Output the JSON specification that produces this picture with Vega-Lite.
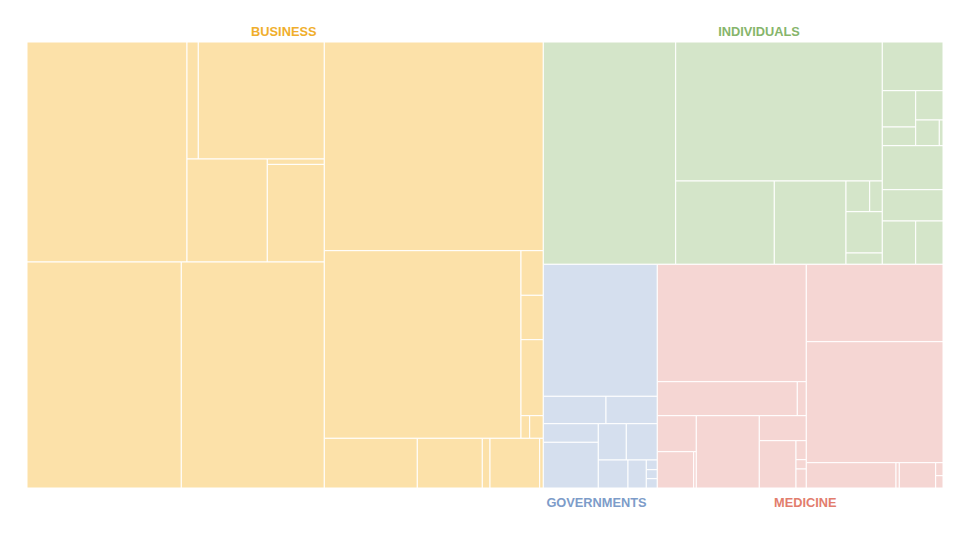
{
  "$schema": "https://vega.github.io/schema/vega-lite/v6.json",
  "width": 916,
  "height": 446,
  "autosize": {"type": "none"},
  "padding": {"left": 27, "top": 42, "right": 27, "bottom": 47},
  "background": "white",
  "config": {"view": {"stroke": null}},
  "datasets": {
    "cells": [
      {"group": "Business", "cell": "B1", "x0": 0, "x1": 160, "y0": 0, "y1": 220},
      {"group": "Business", "cell": "B2", "x0": 160, "x1": 171.3, "y0": 0, "y1": 117},
      {"group": "Business", "cell": "B3", "x0": 171.3, "x1": 297.3, "y0": 0, "y1": 117},
      {"group": "Business", "cell": "B4", "x0": 160, "x1": 240.3, "y0": 117, "y1": 220},
      {"group": "Business", "cell": "B5", "x0": 240.3, "x1": 297.3, "y0": 117, "y1": 122.4},
      {"group": "Business", "cell": "B6", "x0": 240.3, "x1": 297.3, "y0": 122.4, "y1": 220},
      {"group": "Business", "cell": "B7", "x0": 0, "x1": 154.3, "y0": 220, "y1": 446},
      {"group": "Business", "cell": "B8", "x0": 154.3, "x1": 297.3, "y0": 220, "y1": 446},
      {"group": "Business", "cell": "B9", "x0": 297.3, "x1": 516.3, "y0": 0, "y1": 208.7},
      {"group": "Business", "cell": "B10", "x0": 297.3, "x1": 494, "y0": 208.7, "y1": 396.3},
      {"group": "Business", "cell": "B11", "x0": 494, "x1": 516.3, "y0": 208.7, "y1": 253.3},
      {"group": "Business", "cell": "B12", "x0": 494, "x1": 516.3, "y0": 253.3, "y1": 297.7},
      {"group": "Business", "cell": "B13", "x0": 494, "x1": 516.3, "y0": 297.7, "y1": 373.7},
      {"group": "Business", "cell": "B14", "x0": 494, "x1": 502.7, "y0": 373.7, "y1": 396.3},
      {"group": "Business", "cell": "B15", "x0": 502.7, "x1": 516.3, "y0": 373.7, "y1": 396.3},
      {"group": "Business", "cell": "B16", "x0": 297.3, "x1": 390.3, "y0": 396.3, "y1": 446},
      {"group": "Business", "cell": "B17", "x0": 390.3, "x1": 455.3, "y0": 396.3, "y1": 446},
      {"group": "Business", "cell": "B18", "x0": 455.3, "x1": 463, "y0": 396.3, "y1": 446},
      {"group": "Business", "cell": "B19", "x0": 463, "x1": 512.7, "y0": 396.3, "y1": 446},
      {"group": "Business", "cell": "B20", "x0": 512.7, "x1": 516.3, "y0": 396.3, "y1": 446},
      {"group": "Individuals", "cell": "I1", "x0": 516.3, "x1": 648.7, "y0": 0, "y1": 222.3},
      {"group": "Individuals", "cell": "I2", "x0": 648.7, "x1": 855.3, "y0": 0, "y1": 139},
      {"group": "Individuals", "cell": "I3", "x0": 648.7, "x1": 747.3, "y0": 139, "y1": 222.3},
      {"group": "Individuals", "cell": "I4", "x0": 747.3, "x1": 819, "y0": 139, "y1": 222.3},
      {"group": "Individuals", "cell": "I5", "x0": 819, "x1": 842.7, "y0": 139, "y1": 169.7},
      {"group": "Individuals", "cell": "I6", "x0": 842.7, "x1": 855.3, "y0": 139, "y1": 169.7},
      {"group": "Individuals", "cell": "I7", "x0": 819, "x1": 855.3, "y0": 169.7, "y1": 211},
      {"group": "Individuals", "cell": "I8", "x0": 819, "x1": 855.3, "y0": 211, "y1": 222.3},
      {"group": "Individuals", "cell": "I9", "x0": 855.3, "x1": 916, "y0": 0, "y1": 48.7},
      {"group": "Individuals", "cell": "I10", "x0": 855.3, "x1": 888.7, "y0": 48.7, "y1": 85},
      {"group": "Individuals", "cell": "I11", "x0": 855.3, "x1": 888.7, "y0": 85, "y1": 103.7},
      {"group": "Individuals", "cell": "I12", "x0": 888.7, "x1": 916, "y0": 48.7, "y1": 78},
      {"group": "Individuals", "cell": "I13", "x0": 888.7, "x1": 912.3, "y0": 78, "y1": 103.7},
      {"group": "Individuals", "cell": "I14", "x0": 912.3, "x1": 916, "y0": 78, "y1": 103.7},
      {"group": "Individuals", "cell": "I15", "x0": 855.3, "x1": 916, "y0": 103.7, "y1": 147.7},
      {"group": "Individuals", "cell": "I16", "x0": 855.3, "x1": 916, "y0": 147.7, "y1": 179},
      {"group": "Individuals", "cell": "I17", "x0": 855.3, "x1": 888.7, "y0": 179, "y1": 222.3},
      {"group": "Individuals", "cell": "I18", "x0": 888.7, "x1": 916, "y0": 179, "y1": 222.3},
      {"group": "Governments", "cell": "G1", "x0": 516.3, "x1": 630.3, "y0": 222.3, "y1": 354.3},
      {"group": "Governments", "cell": "G2", "x0": 516.3, "x1": 579, "y0": 354.3, "y1": 381.7},
      {"group": "Governments", "cell": "G3", "x0": 579, "x1": 630.3, "y0": 354.3, "y1": 381.7},
      {"group": "Governments", "cell": "G4", "x0": 516.3, "x1": 571.3, "y0": 381.7, "y1": 400.3},
      {"group": "Governments", "cell": "G5", "x0": 516.3, "x1": 571.3, "y0": 400.3, "y1": 446},
      {"group": "Governments", "cell": "G6", "x0": 571.3, "x1": 599.3, "y0": 381.7, "y1": 418},
      {"group": "Governments", "cell": "G7", "x0": 599.3, "x1": 630.3, "y0": 381.7, "y1": 418},
      {"group": "Governments", "cell": "G8", "x0": 571.3, "x1": 601, "y0": 418, "y1": 446},
      {"group": "Governments", "cell": "G9", "x0": 601, "x1": 619.3, "y0": 418, "y1": 446},
      {"group": "Governments", "cell": "G10", "x0": 619.3, "x1": 630.3, "y0": 418, "y1": 427.7},
      {"group": "Governments", "cell": "G11", "x0": 619.3, "x1": 630.3, "y0": 427.7, "y1": 436.7},
      {"group": "Governments", "cell": "G12", "x0": 619.3, "x1": 630.3, "y0": 436.7, "y1": 446},
      {"group": "Medicine", "cell": "M1", "x0": 630.3, "x1": 779.3, "y0": 222.3, "y1": 339.7},
      {"group": "Medicine", "cell": "M2", "x0": 630.3, "x1": 770.3, "y0": 339.7, "y1": 373.7},
      {"group": "Medicine", "cell": "M3", "x0": 770.3, "x1": 779.3, "y0": 339.7, "y1": 373.7},
      {"group": "Medicine", "cell": "M4", "x0": 630.3, "x1": 669.3, "y0": 373.7, "y1": 409.7},
      {"group": "Medicine", "cell": "M5", "x0": 630.3, "x1": 666.7, "y0": 409.7, "y1": 446},
      {"group": "Medicine", "cell": "M6", "x0": 666.7, "x1": 669.3, "y0": 409.7, "y1": 446},
      {"group": "Medicine", "cell": "M7", "x0": 669.3, "x1": 732.3, "y0": 373.7, "y1": 446},
      {"group": "Medicine", "cell": "M8", "x0": 732.3, "x1": 779.3, "y0": 373.7, "y1": 398.7},
      {"group": "Medicine", "cell": "M9", "x0": 732.3, "x1": 769, "y0": 398.7, "y1": 446},
      {"group": "Medicine", "cell": "M10", "x0": 769, "x1": 779.3, "y0": 398.7, "y1": 417.7},
      {"group": "Medicine", "cell": "M11", "x0": 769, "x1": 779.3, "y0": 417.7, "y1": 427},
      {"group": "Medicine", "cell": "M12", "x0": 769, "x1": 779.3, "y0": 427, "y1": 446},
      {"group": "Medicine", "cell": "M13", "x0": 779.3, "x1": 916, "y0": 222.3, "y1": 299.7},
      {"group": "Medicine", "cell": "M14", "x0": 779.3, "x1": 916, "y0": 299.7, "y1": 420.7},
      {"group": "Medicine", "cell": "M15", "x0": 779.3, "x1": 869, "y0": 420.7, "y1": 446},
      {"group": "Medicine", "cell": "M16", "x0": 869, "x1": 872.3, "y0": 420.7, "y1": 446},
      {"group": "Medicine", "cell": "M17", "x0": 872.3, "x1": 908.7, "y0": 420.7, "y1": 446},
      {"group": "Medicine", "cell": "M18", "x0": 908.7, "x1": 916, "y0": 420.7, "y1": 433.7},
      {"group": "Medicine", "cell": "M19", "x0": 908.7, "x1": 916, "y0": 433.7, "y1": 446}
    ],
    "labels": [
      {"group": "Business", "label": "BUSINESS", "lx": 256.8, "ly": -10.3},
      {"group": "Individuals", "label": "INDIVIDUALS", "lx": 732, "ly": -10.3},
      {"group": "Governments", "label": "GOVERNMENTS", "lx": 569.5, "ly": 460.8},
      {"group": "Medicine", "label": "MEDICINE", "lx": 778.3, "ly": 460.8}
    ]
  },
  "layer": [
    {
      "data": {"name": "cells"},
      "mark": {"type": "rect", "stroke": "white", "strokeWidth": 1},
      "encoding": {
        "x": {"field": "x0", "type": "quantitative", "scale": {"domain": [0, 916], "nice": false, "zero": false}, "axis": null},
        "x2": {"field": "x1"},
        "y": {"field": "y0", "type": "quantitative", "scale": {"domain": [0, 446], "nice": false, "zero": false, "reverse": true}, "axis": null},
        "y2": {"field": "y1"},
        "color": {
          "field": "group", "type": "nominal", "legend": null,
          "scale": {"domain": ["Business", "Individuals", "Governments", "Medicine"], "range": ["#fce1a9", "#d4e5c9", "#d5dfee", "#f5d6d3"]}
        },
        "tooltip": [{"field": "group"}, {"field": "cell"}]
      }
    },
    {
      "data": {"name": "labels"},
      "mark": {"type": "text", "font": "Liberation Sans", "fontWeight": "bold", "fontSize": 12.8, "align": "center", "baseline": "middle"},
      "encoding": {
        "x": {"field": "lx", "type": "quantitative"},
        "y": {"field": "ly", "type": "quantitative"},
        "text": {"field": "label"},
        "color": {
          "field": "group", "type": "nominal", "legend": null,
          "scale": {"domain": ["Business", "Individuals", "Governments", "Medicine"], "range": ["#f0ae2c", "#86b56b", "#7d9cc9", "#e27d6d"]}
        }
      }
    }
  ],
  "resolve": {"scale": {"color": "independent"}}
}
